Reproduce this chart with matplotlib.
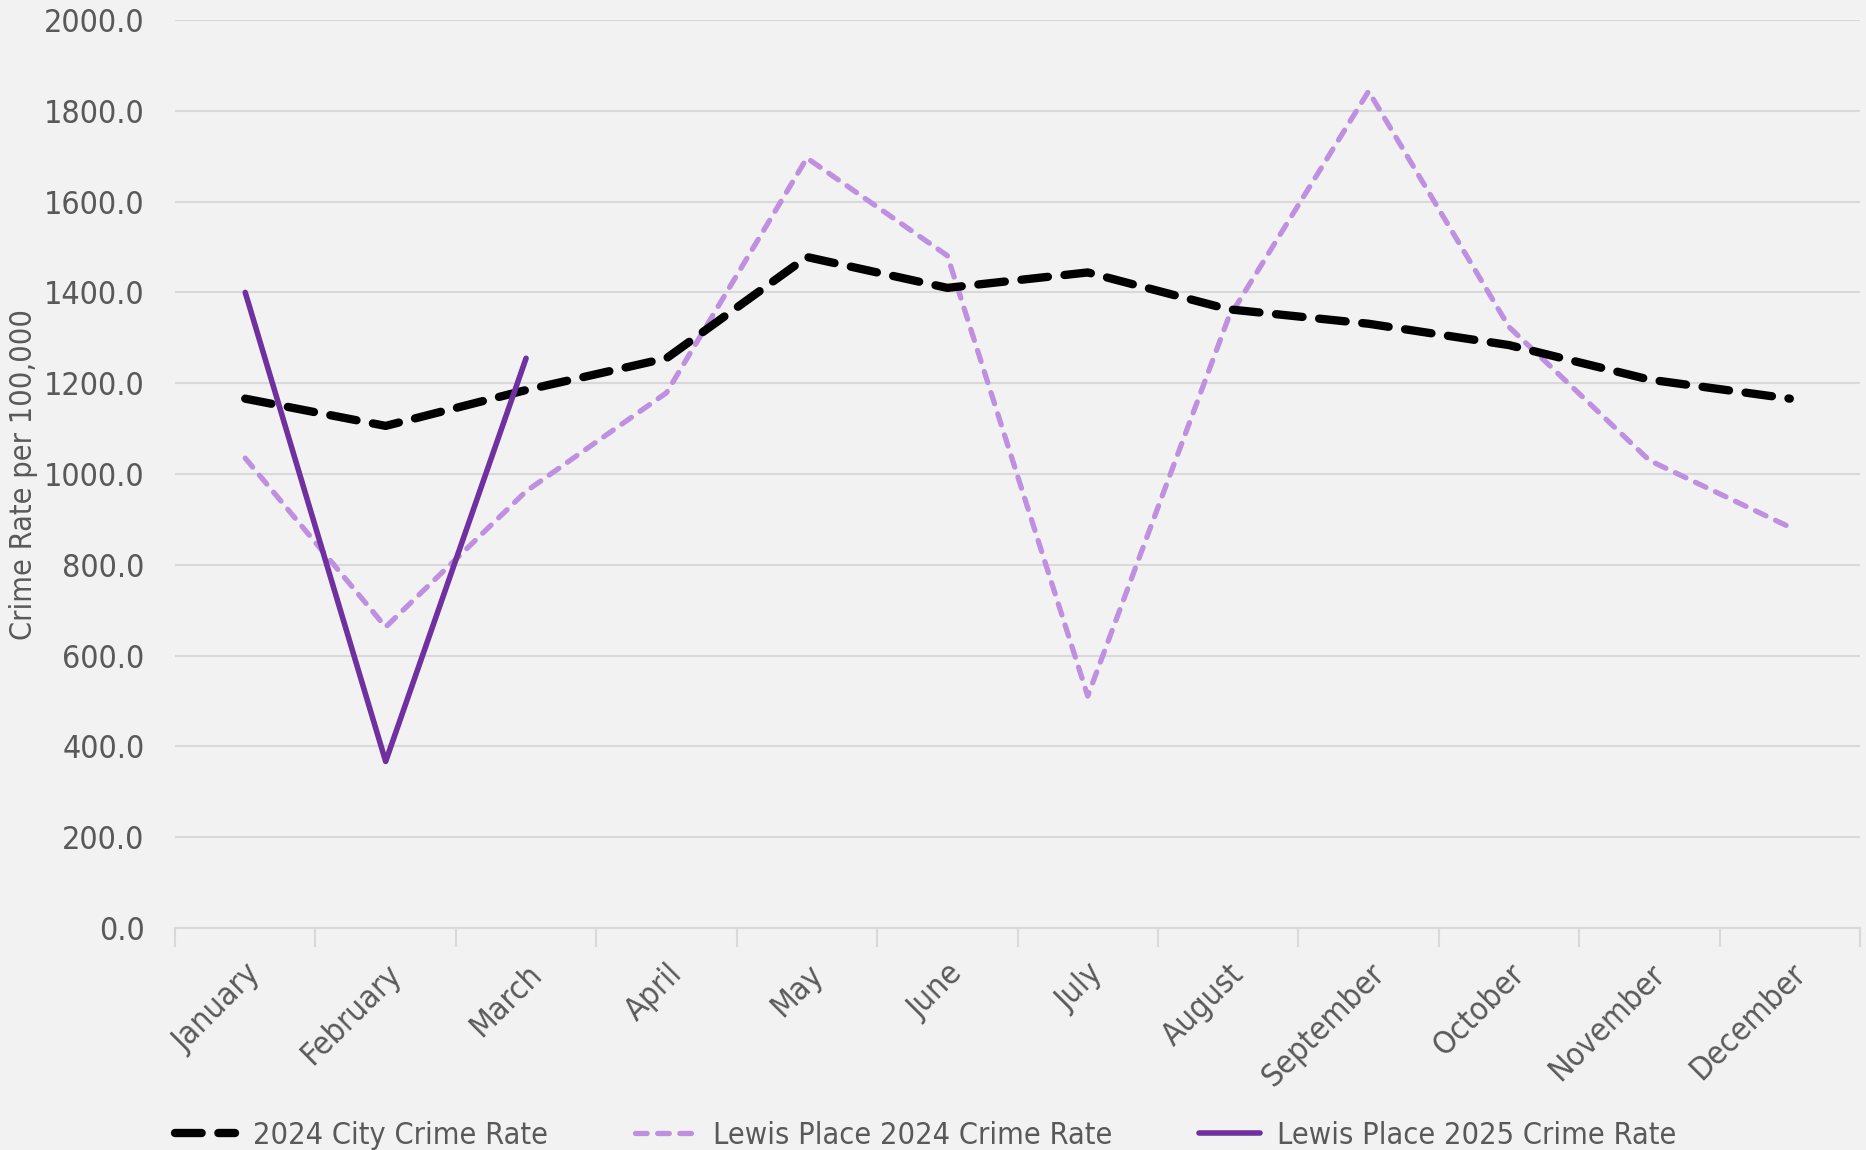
import matplotlib.pyplot as plt
import numpy as np

months = ['January', 'February', 'March', 'April', 'May', 'June', 'July',
          'August', 'September', 'October', 'November', 'December']
city_2024 = [1166, 1106, 1185, 1255, 1478, 1410, 1444, 1363, 1331, 1284, 1208, 1166]
lewis_2024 = [1035, 663, 962, 1179, 1696, 1481, 511, 1342, 1843, 1324, 1030, 883]
lewis_2025 = [1400, 367, 1255]

BG = '#f2f2f2'
TXT = '#595959'
GRID = '#d9d9d9'

plt.rcParams['font.family'] = ['DejaVu Sans']
plt.rcParams['font.stretch'] = 'condensed'

fig = plt.figure(figsize=(18.66, 11.5), dpi=100, facecolor=BG)
ax = fig.add_axes([0.0938, 0.193, 0.9030, 0.7896], facecolor=BG)

x = np.arange(len(months))
ax.plot(x, city_2024, color='black', lw=6, dashes=(3.2, 2.0), dash_capstyle='round',
        label='2024 City Crime Rate', zorder=3)
ax.plot(x, lewis_2024, color='#bf8fe0', lw=3.8, dashes=(2.2, 2.0), dash_capstyle='round',
        label='Lewis Place 2024 Crime Rate', zorder=2)
ax.plot(x[:len(lewis_2025)], lewis_2025, color='#7030a0', lw=4, solid_capstyle='round',
        label='Lewis Place 2025 Crime Rate', zorder=4)

ax.set_xlim(-0.5, len(months) - 0.5)
ax.set_ylim(0, 2000)
ax.set_yticks(np.arange(0, 2001, 200))
ax.set_yticklabels([f'{v:.1f}' for v in np.arange(0, 2001, 200)])
ax.grid(axis='y', color=GRID, lw=1.5)
ax.set_axisbelow(True)

# category boundary ticks on x
ax.set_xticks(np.arange(-0.5, len(months), 1.0), minor=False)
ax.set_xticklabels([])
ax.set_xticks(x, minor=True)
ax.set_xticklabels(months, minor=True, rotation=45, ha='right', va='top',
                   rotation_mode='anchor', fontsize=23, color=TXT)
ax.tick_params(axis='x', which='major', length=14, width=1.5, color=GRID)
ax.tick_params(axis='x', which='minor', length=0, pad=22)
ax.tick_params(axis='y', length=0, labelsize=23, labelcolor=TXT, pad=22)

for s in ['top', 'right', 'left']:
    ax.spines[s].set_visible(False)
ax.spines['bottom'].set_color(GRID)
ax.spines['bottom'].set_linewidth(1.5)

ax.set_ylabel('Crime Rate per 100,000', fontsize=22, color=TXT)
ax.yaxis.set_label_coords(-0.0814, 0.5)

fig.legend(loc='lower left', bbox_to_anchor=(0.0938, 0.0), ncol=3, frameon=False,
           fontsize=22, labelcolor=TXT, handlelength=1.97, handletextpad=0.58,
           columnspacing=2.85, borderpad=0, borderaxespad=0)

fig.savefig('out.png', dpi=100, facecolor=BG)
